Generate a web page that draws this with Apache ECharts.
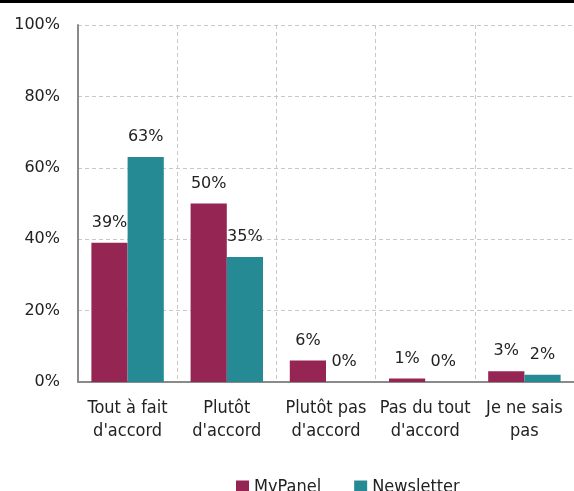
<!DOCTYPE html>
<html><head><meta charset="utf-8">
<script src="https://cdn.jsdelivr.net/npm/echarts@6/dist/echarts.min.js"></script>
<style>html,body{margin:0;padding:0;background:#fff}#c{width:574px;height:491px}</style>
</head><body><div id="c"></div>
<script>
var categories = ["Tout à fait\nd'accord", "Plutôt\nd'accord", "Plutôt pas\nd'accord", "Pas du tout\nd'accord", "Je ne sais\npas"];
var myPanel = [39, 50, 6, 1, 3];
var newsletter = [63, 35, 0, 0, 2];
var seriesNames = ["MyPanel", "Newsletter"];
var yTicks = [0, 20, 40, 60, 80, 100];

var FONT = "DejaVu Sans";
var CFONT = "DejaVu Sans Condensed";
var chart = echarts.init(document.getElementById('c'), null, {renderer: 'canvas'});
var labelCfg = {show: true, position: 'top', distance: 12, formatter: '{c}%', color: '#222', fontSize: 16, fontFamily: FONT};
chart.setOption({
  animation: false,
  textStyle: {fontFamily: FONT},
  graphic: [{type: 'rect', left: 0, top: 0, shape: {width: 574, height: 3}, style: {fill: '#000'}}],
  grid: {left: 78, right: -4, top: 25, bottom: 109, containLabel: false},
  legend: {
    top: 473, left: 231, itemWidth: 13, itemHeight: 13, itemGap: 33,
    icon: 'rect',
    textStyle: {fontSize: 18, color: '#222', fontFamily: CFONT},
    data: seriesNames
  },
  xAxis: {
    type: 'category', data: categories,
    axisLine: {lineStyle: {color: '#8a8a8a', width: 2}},
    axisTick: {show: false},
    axisLabel: {color: '#222', fontSize: 18, fontFamily: CFONT, lineHeight: 23, margin: 15, interval: 0},
    splitLine: {show: true, lineStyle: {color: '#c8c8c8', type: [4, 3], width: 1}}
  },
  yAxis: {
    type: 'value', min: yTicks[0], max: yTicks[yTicks.length - 1], interval: 20,
    axisLine: {show: true, lineStyle: {color: '#8a8a8a', width: 2}},
    axisTick: {show: false},
    axisLabel: {color: '#222', fontSize: 16, fontFamily: FONT, margin: 18, formatter: '{value}%'},
    splitLine: {show: true, lineStyle: {color: '#c8c8c8', type: [4, 3], width: 1}}
  },
  series: [
    {name: seriesNames[0], type: 'bar', data: myPanel, barGap: '0%', barCategoryGap: '27%',
     itemStyle: {color: '#952553'}, label: labelCfg},
    {name: seriesNames[1], type: 'bar', data: newsletter, barGap: '0%', barCategoryGap: '27%',
     itemStyle: {color: '#268a94'}, label: labelCfg}
  ]
});
</script></body></html>
